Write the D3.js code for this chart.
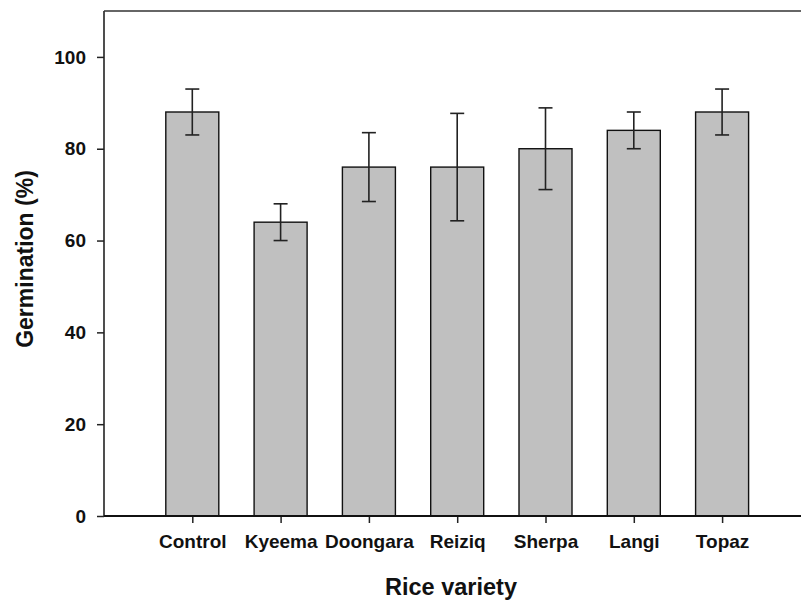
<!DOCTYPE html>
<html>
<head>
<meta charset="utf-8">
<script src="https://cdn.jsdelivr.net/npm/d3@7"></script>
<style>
  body { margin: 0; background: #fff; }
  svg { display: block; font-family: "Liberation Sans", Arial, sans-serif; font-weight: bold; }
</style>
</head>
<body>
<div id="container"></div>
<script>
var varieties = ["Control", "Kyeema", "Doongara", "Reiziq", "Sherpa", "Langi", "Topaz"];
var germination = [88, 64, 76, 76, 80, 84, 88];
var errors = [5, 4, 7.5, 11.7, 8.9, 4, 5];
var yTicks = [0, 20, 40, 60, 80, 100];

var width = 801;
var height = 601;
var plotLeft = 104, plotTop = 11, plotBottom = 516;
var step = 88.3;
var barwidth = 53;

var xScale = d3.scaleLinear()
               .domain([0, varieties.length + 1])
               .range([plotLeft, plotLeft + step * (varieties.length + 1)]);

var yScale = d3.scaleLinear()
               .domain([0, 110])
               .range([plotBottom, plotTop]);

var SVG = d3.select("#container")
            .append("svg")
            .attr("width", width)
            .attr("height", height);

// bars
SVG.selectAll("rect.bar")
   .data(germination)
   .enter()
   .append("rect")
   .attr("class", "bar")
   .attr("x", (d, i) => xScale(i + 1) - barwidth / 2)
   .attr("y", (d) => yScale(d))
   .attr("width", barwidth)
   .attr("height", (d) => yScale(0) - yScale(d))
   .attr("fill", "#c0c0c0")
   .attr("stroke", "#111")
   .attr("stroke-width", 1.4);

// error bars
var eb = SVG.append("g")
            .attr("stroke", "#222")
            .attr("stroke-width", 1.6);

germination.forEach(function(d, i) {
  var cx = xScale(i + 1);
  eb.append("line")
    .attr("x1", cx).attr("x2", cx)
    .attr("y1", yScale(d - errors[i])).attr("y2", yScale(d + errors[i]));
  [d - errors[i], d + errors[i]].forEach(function(v) {
    eb.append("line")
      .attr("x1", cx - 7).attr("x2", cx + 7)
      .attr("y1", yScale(v)).attr("y2", yScale(v));
  });
});

// y axis
var yAxis = d3.axisLeft(yScale)
              .tickValues(yTicks)
              .tickSize(7)
              .tickPadding(11)
              .tickSizeOuter(0);

var gy = SVG.append("g")
            .attr("transform", "translate(" + plotLeft + ",0)")
            .call(yAxis);
gy.select(".domain").remove();
gy.selectAll("line").attr("stroke", "#222").attr("stroke-width", 1.5);
gy.selectAll("text")
  .attr("fill", "#111")
  .style("font-size", "19px")
  .style("font-weight", "bold")
  .style("font-family", "'Liberation Sans', Arial, sans-serif");

// x axis
var xAxis = d3.axisBottom(xScale)
              .tickValues(d3.range(1, varieties.length + 1))
              .tickFormat((d) => varieties[d - 1])
              .tickSize(7)
              .tickPadding(12)
              .tickSizeOuter(0);

var gx = SVG.append("g")
            .attr("transform", "translate(0," + plotBottom + ")")
            .call(xAxis);
gx.select(".domain").remove();
gx.selectAll("line").attr("stroke", "#222").attr("stroke-width", 1.5);
gx.selectAll("text")
  .attr("fill", "#111")
  .style("font-size", "19px")
  .style("font-weight", "bold")
  .style("font-family", "'Liberation Sans', Arial, sans-serif");

// frame lines: left, bottom, top
SVG.append("line")
   .attr("x1", plotLeft).attr("x2", plotLeft)
   .attr("y1", plotTop).attr("y2", plotBottom)
   .attr("stroke", "#222").attr("stroke-width", 1.6);
SVG.append("line")
   .attr("x1", plotLeft).attr("x2", width)
   .attr("y1", plotBottom).attr("y2", plotBottom)
   .attr("stroke", "#111").attr("stroke-width", 1.8);
SVG.append("line")
   .attr("x1", plotLeft).attr("x2", width)
   .attr("y1", plotTop).attr("y2", plotTop)
   .attr("stroke", "#333").attr("stroke-width", 1.6);

// axis titles
SVG.append("text")
   .attr("x", 451)
   .attr("y", 595)
   .attr("text-anchor", "middle")
   .attr("fill", "#111")
   .style("font-size", "23.5px")
   .text("Rice variety");

SVG.append("text")
   .attr("transform", "translate(33,259) rotate(-90)")
   .attr("text-anchor", "middle")
   .attr("fill", "#111")
   .style("font-size", "23px")
   .text("Germination (%)");
</script>
</body>
</html>
